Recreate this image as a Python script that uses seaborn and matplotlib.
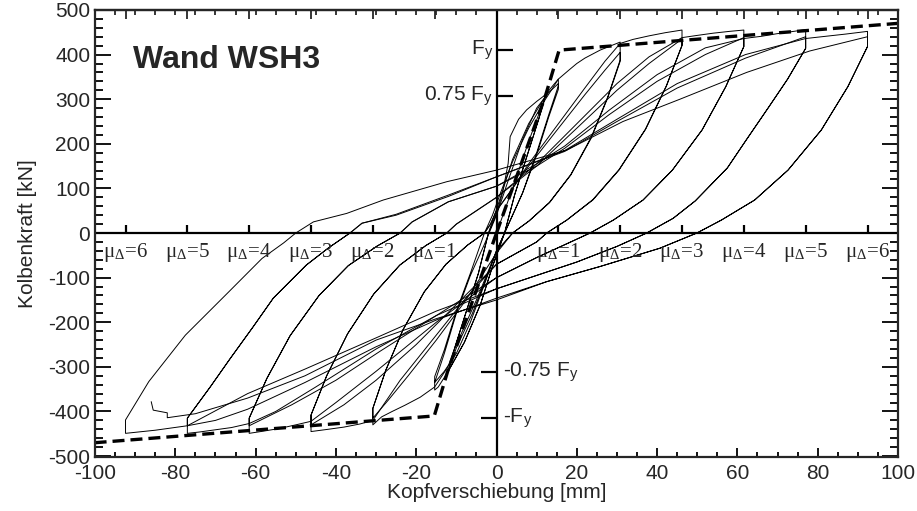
import numpy as np
import pandas as pd
import matplotlib
matplotlib.use("Agg")
import matplotlib.pyplot as plt
from matplotlib.ticker import MultipleLocator, NullFormatter
import seaborn as sns

# Ductility steps (mu_Delta) and yield force levels
mu_labels = ["1", "2", "3", "4", "5", "6"]
mu_disp = [15.4, 30.8, 46.2, 61.6, 77.0, 92.4]
fy_pos = [410, 307]
fy_pos_labels = [r"F$_\mathregular{y}$", r"0.75 F$_\mathregular{y}$"]
fy_neg = [-311, -415]
fy_neg_labels = [r"-0.75 F$_\mathregular{y}$", r"-F$_\mathregular{y}$"]

# idealised bilinear envelope (dashed)
env_pos = [(0, 0), (12.2, 308), (15.6, 410), (100, 470)]
env_neg = [(0, 0), (-12.2, -311), (-15.5, -410), (-100, -470)]

pre_path = [
    (0, 0), (4, 100), (8, 205), (12.2, 307), (10.5, 255), (7.5, 170), (4.5, 85), (2, 0),
    (-1, -75), (-4, -160), (-8, -245), (-12.1, -311), (-10.5, -260), (-7.5, -175), (-4.5, -90), (-2, 0),
    (1, 80), (4, 165), (8, 245), (12.2, 307), (10.5, 255), (7.5, 170), (4.5, 85), (2, 0),
    (-1, -75), (-4, -160), (-8, -245), (-12.1, -311), (-10.5, -260), (-7.5, -175), (-4.5, -90), (-2, 0),
]
mu1_path = [
    (-2, 0), (0, 45), (1.5, 90), (2.9, 156), (3.4, 216), (5.5, 255), (7.5, 276), (10, 295), (12.2, 310),
    (14, 330), (15.4, 345), (15.4, 330), (13, 265), (10, 180), (6.5, 90), (3, 20), (0, -40), (-3, -110),
    (-6, -180), (-9.9, -255), (-12.1, -311), (-14.5, -345), (-15.4, -352), (-15.4, -335), (-13, -270),
    (-10, -180), (-6.5, -95), (-3, -25), (0, 40), (3, 120), (6.5, 210), (10, 280), (13, 315), (15.4, 335),
    (15.4, 322), (13, 260), (10, 175), (6.5, 90), (3, 20), (0, -40), (-3, -115), (-6.5, -200), (-10, -270),
    (-13, -310), (-15.4, -335), (-15.4, -322), (-13, -262), (-10, -175), (-6.5, -90), (-3, 0),
]
mu2_path = [
    (-3, 0), (-1, 40), (1, 90), (4, 160), (8, 235), (12.2, 300), (14, 325), (15.4, 345), (18, 365), (20, 380),
    (22, 392), (25.8, 410), (28, 418), (30.8, 428),
    (30.8, 388), (27.7, 305), (23.6, 215), (18.5, 131), (13.2, 69), (8.1, 27), (4, 0),
    (0, -40), (-5, -150), (-10, -250), (-12.1, -300), (-15.4, -345), (-19, -368), (-22.8, -386), (-26, -400),
    (-28.6, -412), (-30.8, -430),
    (-30.8, -393), (-27.6, -308), (-23.3, -217), (-18, -132), (-12.6, -70), (-7.2, -27), (-3, 0),
    (-1.5, 20), (0, 50), (4, 100), (8, 150), (15, 230), (22, 310), (27, 365), (30.8, 405),
    (30.8, 385), (27.7, 303), (23.6, 213), (18.5, 130), (13.2, 68), (8.1, 27), (4, 0),
    (0, -45), (-4, -100), (-8, -155), (-15, -240), (-22, -320), (-27, -375), (-30.8, -415),
    (-30.8, -393), (-27.6, -308), (-23.3, -217), (-18, -132), (-12.6, -70), (-7.2, -27), (-3, 0),
]
mu3_path = [
    (-3, 0), (-1.5, 20), (0, 50), (4, 100), (8, 155), (15, 240), (22, 325), (27, 385), (30.8, 425), (34, 434),
    (38, 442), (42, 449), (46.2, 455),
    (46.2, 421), (42.3, 330), (37.1, 233), (30.5, 142), (24, 75), (17.5, 29), (12.5, 0),
    (10, -20), (5, -45), (0, -70), (-8, -150), (-16, -240), (-24, -330), (-30.8, -420), (-34, -428),
    (-38, -435), (-42, -440), (-46.2, -445),
    (-46.2, -408), (-42.3, -320), (-37.1, -226), (-30.6, -137), (-24.1, -72), (-17.6, -28), (-12.4, 0),
    (-10, 20), (-5, 50), (0, 80), (10, 150), (20, 235), (30, 320), (38, 380), (46.2, 435),
    (46.2, 420), (42.3, 329), (37.1, 232), (30.5, 141), (24, 74), (17.5, 29), (12.5, 0),
    (10, -20), (5, -45), (0, -70), (-10, -160), (-20, -250), (-30, -330), (-38, -385), (-46.2, -430),
    (-46.2, -408), (-42.3, -320), (-37.1, -226), (-30.6, -137), (-24.1, -72), (-17.6, -28), (-12.4, 0),
]
mu4_path = [
    (-12.4, 0), (-10, 20), (-5, 50), (0, 80), (10, 155), (20, 245), (30, 335), (38, 395), (46.2, 438),
    (50, 443), (54, 448), (58, 452), (61.6, 455),
    (61.6, 418), (57.1, 328), (51.2, 231), (43.8, 141), (36.5, 74), (29.1, 29), (23.3, 0),
    (18, -22), (10, -55), (0, -100), (-15, -200), (-30, -310), (-40, -380), (-46.2, -422), (-50, -430),
    (-54, -438), (-58, -444), (-61.6, -449),
    (-61.6, -415), (-57.2, -326), (-51.4, -230), (-44.2, -140), (-36.9, -73), (-29.7, -29), (-24, 0),
    (-21, 25), (-12, 70), (0, 105), (10, 150), (17, 190), (28, 265), (40, 340), (52, 400), (61.6, 438),
    (61.6, 418), (57.1, 328), (51.2, 231), (43.8, 141), (36.5, 74), (29.1, 29), (23.3, 0),
    (18, -22), (10, -55), (0, -100), (-15, -185), (-29, -265), (-40, -330), (-51, -385), (-61.6, -432),
    (-61.6, -415), (-57.2, -326), (-51.4, -230), (-44.2, -140), (-36.9, -73), (-29.7, -29), (-24, 0),
]
mu5_path = [
    (-24, 0), (-21, 25), (-12, 70), (0, 105), (10, 155), (17, 195), (28, 275), (40, 355), (52, 415),
    (61.6, 436), (66, 441), (70, 447), (74, 452), (77, 456),
    (77, 414), (72.5, 345), (67.7, 281), (62.3, 210), (57.5, 146), (49.5, 72), (44, 33), (37.4, 0),
    (30, -30), (20, -65), (10, -95), (0, -125), (-15, -185), (-30, -260), (-45, -345), (-55, -400),
    (-61.6, -427), (-66, -436), (-70, -441), (-74, -446), (-77, -449),
    (-77, -415), (-71.3, -345), (-66.3, -281), (-60.6, -210), (-55.6, -146), (-47.4, -72), (-41.8, -33), (-36.5, 0),
    (-33.5, 22), (-25, 40), (-12, 82), (0, 126), (17, 183), (30, 250), (45, 325), (62, 392), (77, 440),
    (77, 414), (72.5, 345), (67.7, 281), (62.3, 210), (57.5, 146), (49.5, 72), (44, 33), (37.4, 0),
    (30, -30), (20, -65), (10, -95), (0, -125), (-15, -175), (-30, -235), (-47.7, -305), (-62, -360), (-77, -432),
    (-77, -415), (-71.3, -345), (-66.3, -281), (-60.6, -210), (-55.6, -146), (-47.4, -72), (-41.8, -33), (-36.5, 0),
]
mu6_path = [
    (-36.5, 0), (-33.5, 22), (-25, 42), (-12, 85), (0, 126), (17, 185), (30, 255), (45, 335), (62, 400),
    (77, 436), (82, 441), (87, 446), (92.4, 452),
    (92.4, 418), (87.5, 328), (80.9, 231), (72.6, 141), (64.3, 74), (56, 29), (49.9, 0),
    (40.7, -34), (25.8, -75), (12.5, -109), (0, -146), (-15, -195), (-30, -255), (-47.7, -335), (-62, -395),
    (-70, -420), (-77, -432), (-85, -442), (-92.4, -449),
    (-92.4, -419), (-86.6, -333), (-77.5, -229), (-66.7, -132), (-58.4, -57), (-53, -22), (-50, 0),
    (-45.6, 25), (-37.3, 44), (-28.2, 74), (-12.4, 115), (0, 141), (17.5, 186), (31.5, 250), (45.7, 300),
    (62.3, 360), (78, 408), (92.4, 440),
    (92.4, 418), (87.5, 328), (80.9, 231), (72.6, 141), (64.3, 74), (56, 29), (49.9, 0),
    (40.7, -34), (25.8, -75), (12.5, -109), (0, -150), (-15, -192), (-30, -240), (-47.7, -320), (-62, -370),
    (-75, -405), (-82, -414), (-82, -403), (-85.5, -397), (-86, -378),
]

sns.set_style("ticks")
plt.rcParams["font.family"] = ["Liberation Sans", "DejaVu Sans"]
plt.rcParams["mathtext.fontset"] = "stix"
plt.rcParams["axes.unicode_minus"] = False

fig = plt.figure(figsize=(9.17, 5.11), dpi=100)
ax = fig.add_axes([0.1036, 0.1057, 0.8757, 0.8748])


def draw(path, **kw):
    df = pd.DataFrame(path, columns=["s", "F"])
    sns.lineplot(data=df, x="s", y="F", sort=False, estimator=None, ax=ax, **kw)


for p in [pre_path, mu1_path, mu2_path, mu3_path, mu4_path, mu5_path, mu6_path]:
    draw(p, color="black", linewidth=0.7)

for env in [env_pos, env_neg]:
    draw(env, color="black", linewidth=2.4, dashes=(3.6, 1.8))

# centre cross with the ductility and force marks
ax.axhline(0, color="black", linewidth=1.6)
ax.axvline(0, color="black", linewidth=1.6)
mu_all = [-m for m in mu_disp] + mu_disp
ax.vlines(mu_all, 0, 18, color="black", linewidth=1.6)
ax.hlines(fy_pos, 0, 4.2, color="black", linewidth=1.6)
ax.hlines(fy_neg, -3.8, 0, color="black", linewidth=1.6)

for m, lab in zip(mu_disp, mu_labels):
    for sgn in (-1, 1):
        ax.text(sgn * m, -18, "\u03bc$_\\mathregular{\u0394}$=" + lab, ha="center", va="top",
                fontsize=15, family="Liberation Serif")
for f, lab in zip(fy_pos, fy_pos_labels):
    ax.text(-0.9, f, lab, ha="right", va="center", fontsize=15)
for f, lab in zip(fy_neg, fy_neg_labels):
    ax.text(1.5, f, lab, ha="left", va="center", fontsize=15)

ax.text(-90.5, 388, "Wand WSH3", fontsize=23, fontweight="bold", ha="left", va="center")

ax.set_xlim(-100, 100)
ax.set_ylim(-502, 500)
ax.set_xticks(np.arange(-100, 101, 20))
ax.set_yticks(np.arange(-500, 501, 100))
ax.xaxis.set_minor_locator(MultipleLocator(5))
ax.yaxis.set_minor_locator(MultipleLocator(20))
ax.tick_params(axis="both", which="both", direction="in", labelsize=15, width=1.3, color="black")
ax.tick_params(axis="x", which="major", length=6.5, top=False, pad=5)
ax.tick_params(axis="x", which="minor", length=3.5, top=False)
ax.tick_params(axis="y", which="major", length=11.5, right=True)
ax.tick_params(axis="y", which="minor", length=5.8, right=True)

top = ax.secondary_xaxis("top")
top.set_xticks(mu_all)
top.xaxis.set_major_formatter(NullFormatter())
top.xaxis.set_minor_locator(MultipleLocator(5))
top.tick_params(which="major", direction="in", length=6.5, width=1.3)
top.tick_params(which="minor", direction="in", length=3.5, width=1.3)
top.spines["top"].set_linewidth(1.6)

for s in ax.spines.values():
    s.set_linewidth(1.6)

ax.set_xlabel("Kopfverschiebung [mm]", fontsize=15, labelpad=0)
ax.set_ylabel("Kolbenkraft [kN]", fontsize=15, labelpad=8)

fig.savefig("out.png", dpi=100)
